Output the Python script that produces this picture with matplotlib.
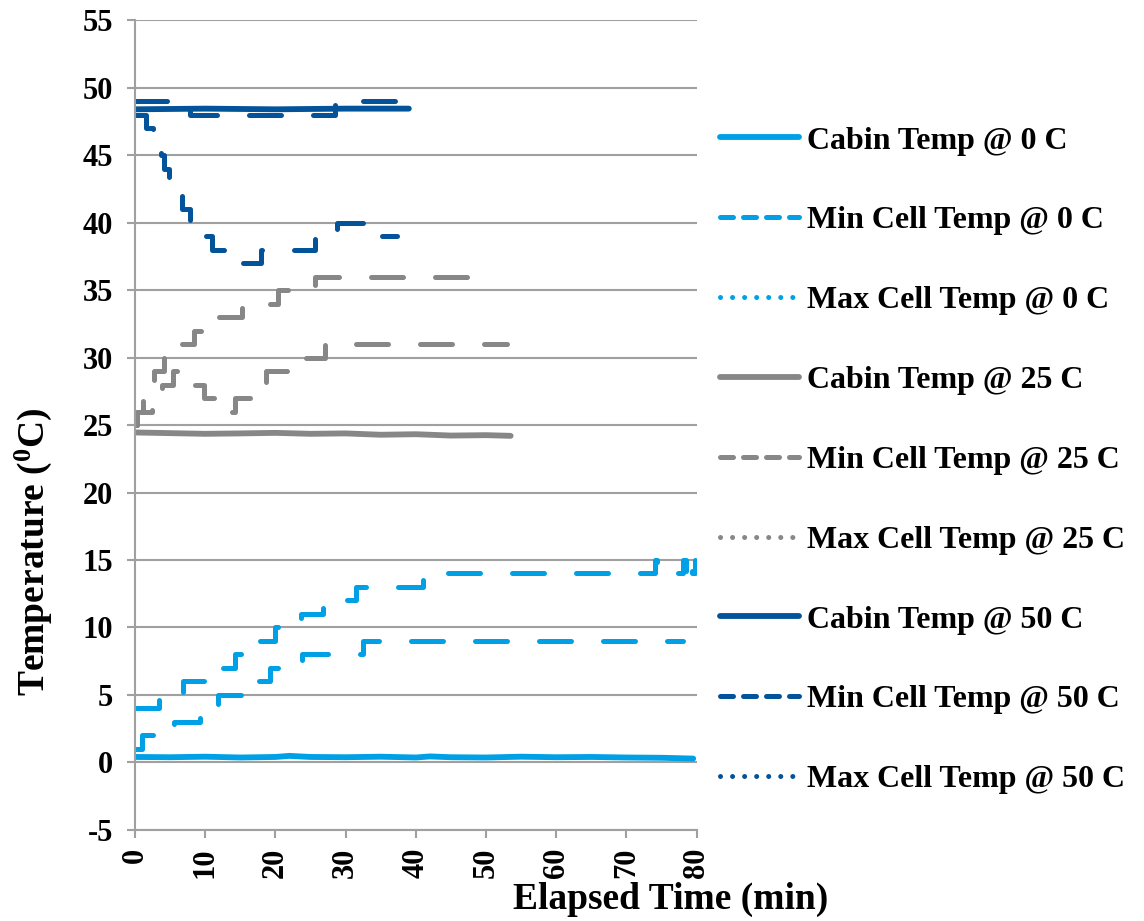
import matplotlib
matplotlib.use("Agg")
import matplotlib.pyplot as plt

plt.rcParams['font.family'] = ['Liberation Serif', 'DejaVu Serif']
plt.rcParams['font.weight'] = 'bold'
plt.rcParams['mathtext.fontset'] = 'custom'
plt.rcParams['mathtext.rm'] = 'Liberation Serif:bold'
plt.rcParams['axes.unicode_minus'] = False

# colours for the three ambient temperatures
c0 = '#00a0e6'
c25 = '#878787'
c50 = '#03539a'

# cabin temperatures
cabin0_t = [0, 5, 10, 15, 20, 22, 25, 30, 35, 40, 42, 45, 50, 55, 60, 65, 70, 75, 79.5]
cabin0_v = [0.40, 0.38, 0.42, 0.36, 0.40, 0.48, 0.40, 0.38, 0.42, 0.36, 0.44, 0.38, 0.36, 0.42, 0.38, 0.40, 0.36, 0.34, 0.28]
cabin25_t = [0, 5, 10, 15, 20, 25, 30, 35, 40, 45, 50, 53.5]
cabin25_v = [24.45, 24.40, 24.35, 24.38, 24.42, 24.35, 24.38, 24.28, 24.32, 24.22, 24.25, 24.20]
cabin50_t = [0, 10, 20, 30, 39]
cabin50_v = [48.40, 48.45, 48.40, 48.45, 48.45]

# cell temperatures (step changes)
min0_t = [0, 1.0, 5.6, 9.2, 11.8, 16.2, 19.2, 23.8, 32.5, 78.0]
min0_v = [1, 2, 3, 4, 5, 6, 7, 8, 9, 9]
max0_t = [0, 3.4, 6.8, 10.3, 14.2, 16.2, 20.0, 23.6, 26.8, 31.5, 41.0, 74.0, 74.3, 78.0, 78.5, 79.0, 79.4, 79.8]
max0_v = [4, 5, 6, 7, 8, 9, 10, 11, 12, 13, 14, 15, 14, 15, 14, 15, 14, 15]

min25_t = [0, 0.3, 2.4, 3.8, 5.4, 7.2, 9.8, 11.2, 14.2, 17.0, 18.6, 21.8, 27.0, 53.0]
min25_v = [25, 26, 27, 28, 29, 28, 27, 26, 27, 28, 29, 30, 31, 31]
max25_t = [0, 0.3, 1.2, 1.9, 2.7, 4.2, 5.5, 8.4, 11.6, 15.3, 20.4, 25.6, 49.5]
max25_v = [25, 26, 27, 28, 29, 30, 31, 32, 33, 34, 35, 36, 36]

min50_t = [0, 1.6, 2.6, 3.7, 4.2, 4.8, 5.5, 6.7, 7.8, 9.2, 10.9, 14.2, 18.0, 25.6, 28.8, 32.8, 37.3]
min50_v = [48, 47, 46, 45, 44, 43, 42, 41, 40, 39, 38, 37, 38, 39, 40, 39, 39]
max50_t = [0, 7.8, 28.5, 39.0]
max50_v = [49, 48, 49, 49]

labels = ['Cabin Temp @ 0 C', 'Min Cell Temp @ 0 C', 'Max Cell Temp @ 0 C',
          'Cabin Temp @ 25 C', 'Min Cell Temp @ 25 C', 'Max Cell Temp @ 25 C',
          'Cabin Temp @ 50 C', 'Min Cell Temp @ 50 C', 'Max Cell Temp @ 50 C']

fig = plt.figure(figsize=(11.44, 9.21), dpi=100)
ax = fig.add_axes([0.118, 0.099, 0.491, 0.879])

lw = 3.6
dash = (0, (6.4, 6.4))
series = [
    (cabin0_t, cabin0_v, c0, 'cabin'), (min0_t, min0_v, c0, 'min'), (max0_t, max0_v, c0, 'max'),
    (cabin25_t, cabin25_v, c25, 'cabin'), (min25_t, min25_v, c25, 'min'), (max25_t, max25_v, c25, 'max'),
    (cabin50_t, cabin50_v, c50, 'cabin'), (min50_t, min50_v, c50, 'min'), (max50_t, max50_v, c50, 'max'),
]
for (t, v, col, kind), lab in zip(series, labels):
    if kind == 'cabin':
        ax.plot(t, v, color=col, lw=lw + 0.6, solid_capstyle='round', label=lab)
    else:
        ax.plot(t, v, color=col, lw=lw, drawstyle='steps-post', linestyle=dash,
                dash_capstyle='round', label=lab)

ax.set_xlim(0, 80)
ax.set_ylim(-5, 55)
ax.set_xticks(range(0, 81, 10))
ax.set_yticks(range(-5, 56, 5))
ax.grid(axis='y', color='#a0a0a0', lw=1.5)
ax.set_axisbelow(True)
for s in ['top', 'right']:
    ax.spines[s].set_visible(False)
for s in ['left', 'bottom']:
    ax.spines[s].set_color('#a0a0a0')
    ax.spines[s].set_linewidth(1.5)
ax.tick_params(axis='both', colors='#a0a0a0', length=6, width=1.5, labelsize=22,
               labelcolor='black')
ax.tick_params(axis='y', pad=10)
ax.tick_params(axis='x', pad=7, labelrotation=90)

ax.set_xlabel('Elapsed Time (min)', fontsize=27, fontweight='bold', va='center')
ax.xaxis.set_label_coords(0.954, -0.086)
ax.set_ylabel(r'Temperature ($\mathregular{^0}$C)', fontsize=27, fontweight='bold', va='center')
ax.yaxis.set_label_coords(-0.181, 0.344)

leg = ax.legend(loc='upper left', bbox_to_anchor=(0.629, 0.863), bbox_transform=fig.transFigure,
                frameon=False, fontsize=23, handlelength=2.5, handletextpad=0.25,
                labelspacing=1.58, borderpad=0, borderaxespad=0)
for i, line in enumerate(leg.get_lines()):
    kind = series[i][3]
    if kind == 'min':
        line.set_linestyle((0, (2.6, 2.0)))
    elif kind == 'max':
        line.set_linestyle((0, (0.01, 2.4)))
        line.set_dash_capstyle('round')

fig.savefig('out.png', dpi=100)
